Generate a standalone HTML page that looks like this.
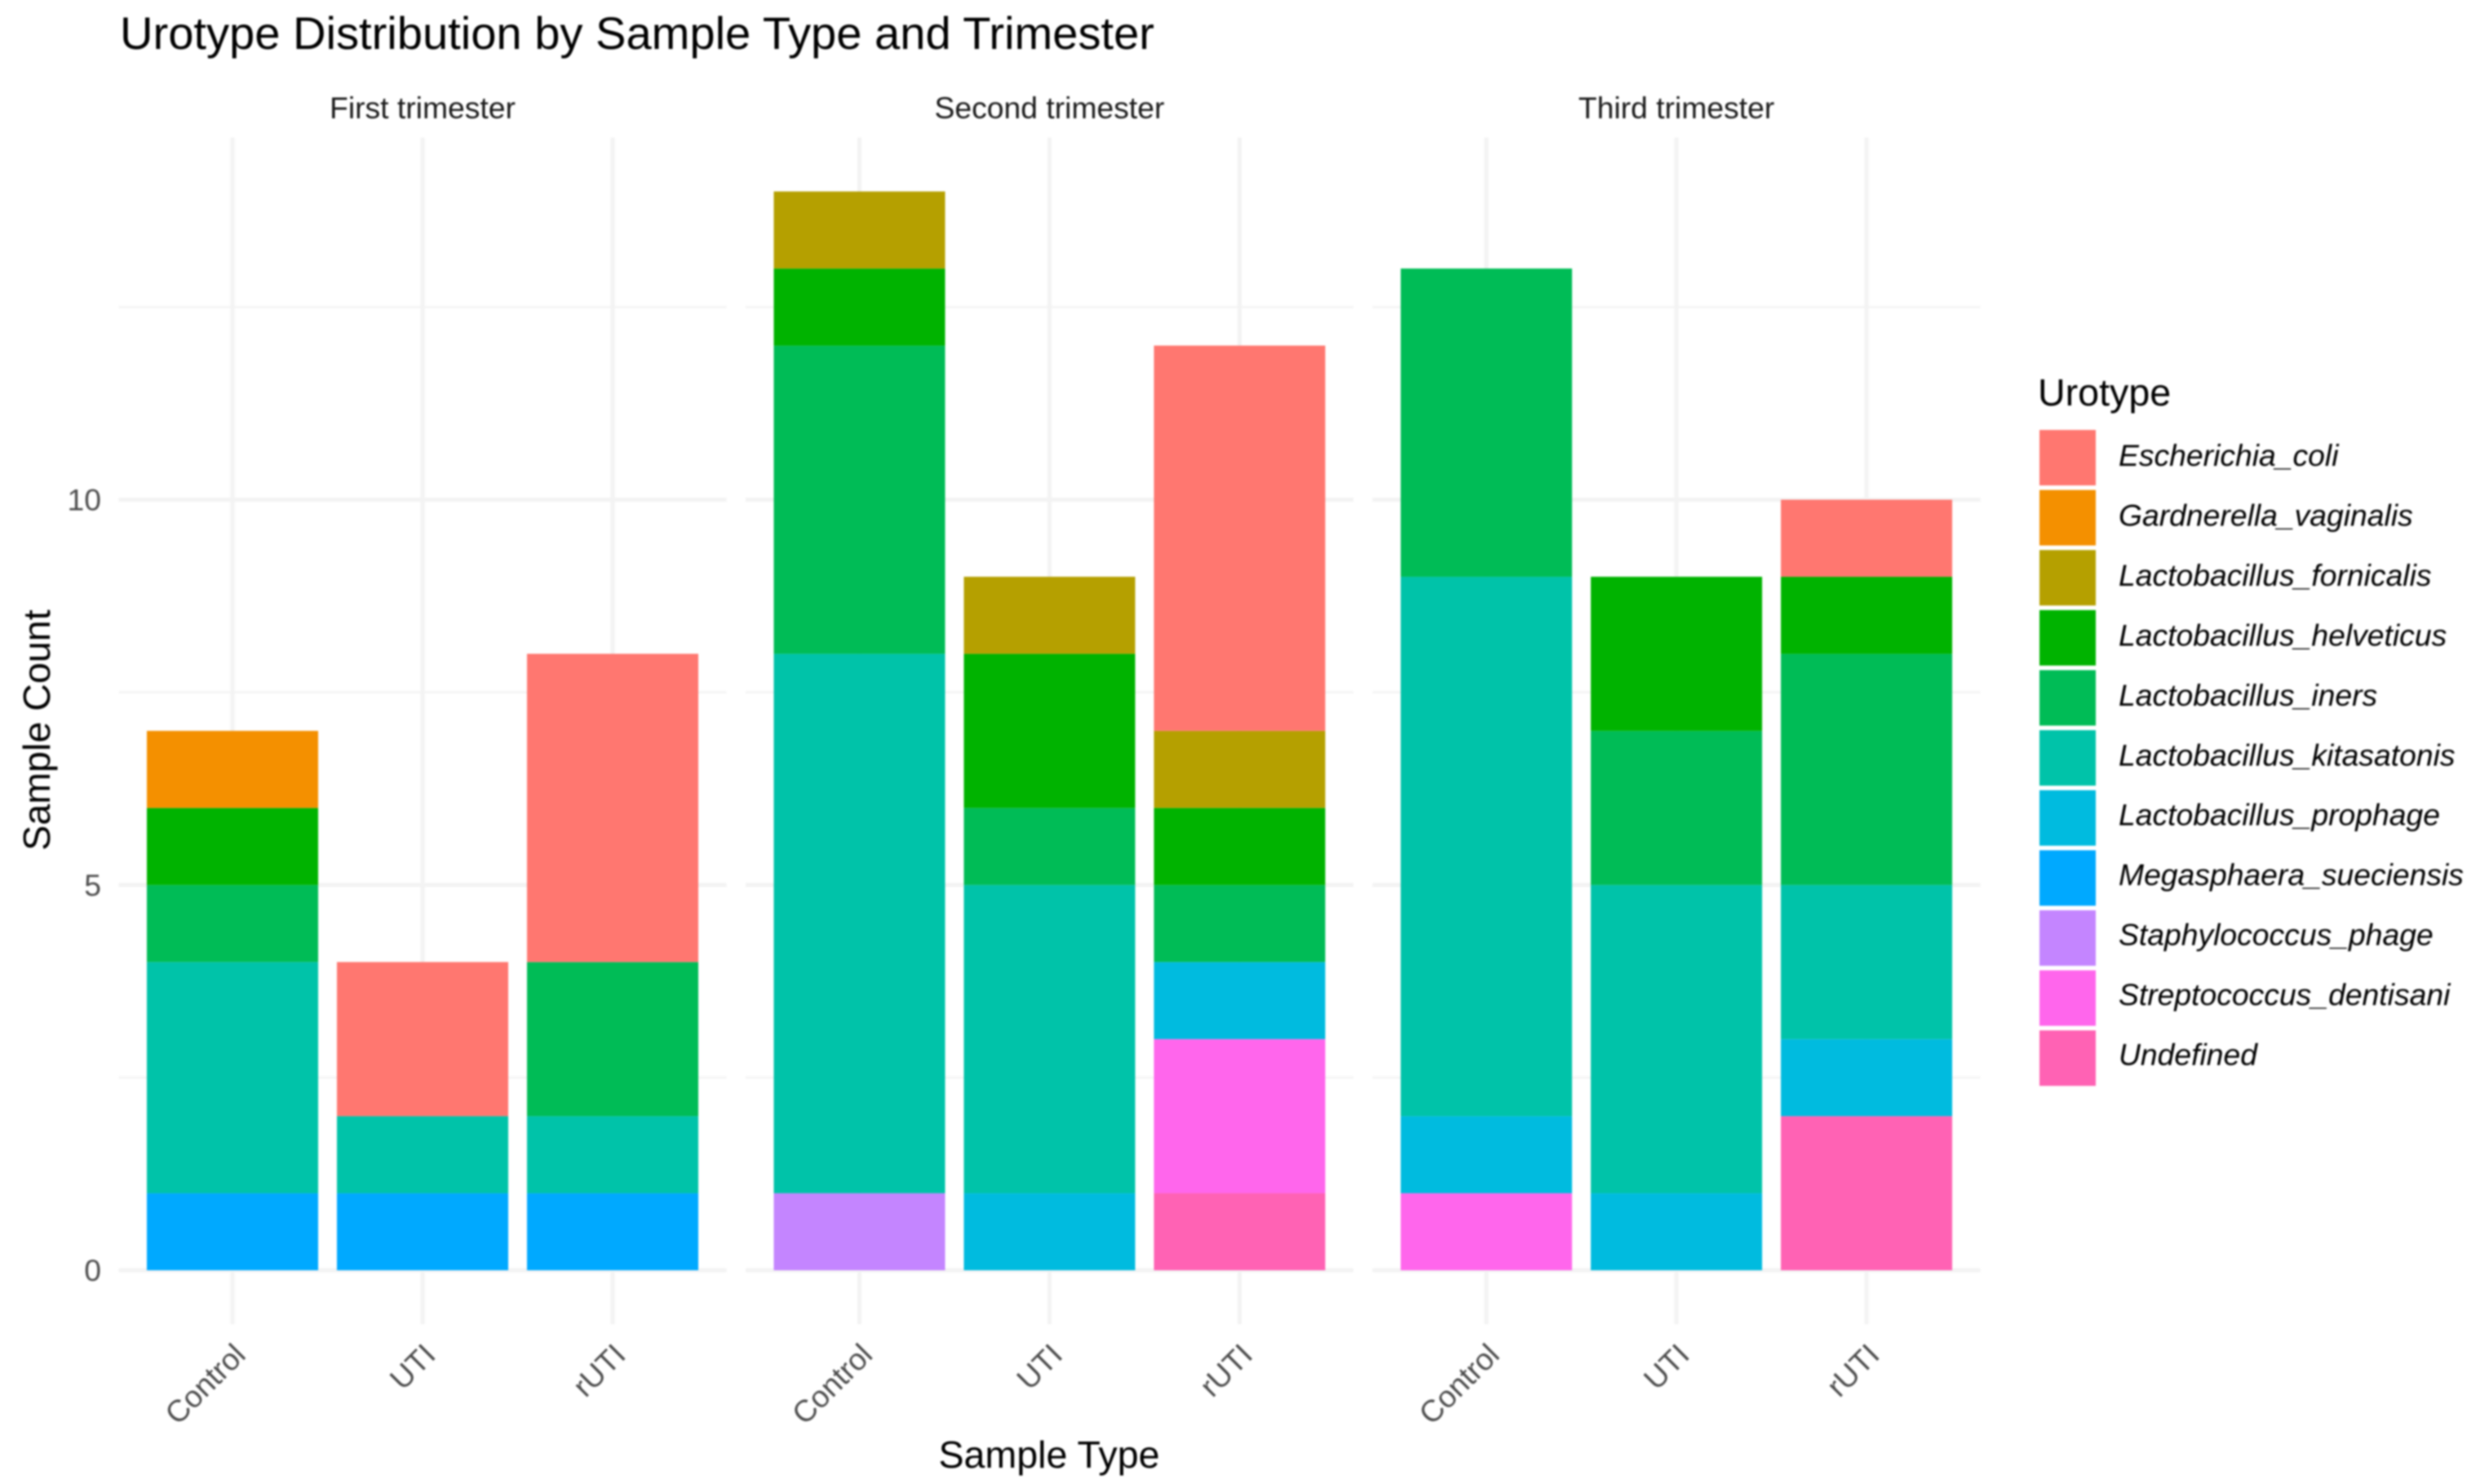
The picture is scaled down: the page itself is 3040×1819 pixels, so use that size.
<!DOCTYPE html>
<html lang="en">
<head>
<meta charset="utf-8">
<title>Urotype Distribution by Sample Type and Trimester</title>
<style>
html,body{margin:0;padding:0;background:#fff;}
svg{display:block;font-family:"Liberation Sans",Arial,sans-serif;filter:blur(1px);}
</style>
</head>
<body>
<svg id="chart" xmlns="http://www.w3.org/2000/svg" width="3040" height="1819" viewBox="0 0 3040 1819">
  <rect x="0" y="0" width="3040" height="1819" fill="#ffffff"/>
  <text x="147" y="60" font-size="56" textLength="1268" lengthAdjust="spacingAndGlyphs" fill="#000000">Urotype Distribution by Sample Type and Trimester</text>
  <text x="1286" y="1799" font-size="46.6" fill="#000000" text-anchor="middle">Sample Type</text>
  <text x="0" y="0" transform="translate(61,895) rotate(-90)" font-size="46.6" fill="#000000" text-anchor="middle">Sample Count</text>
  <text x="2498" y="497" font-size="46.6" fill="#000000">Urotype</text>
  <g id="grid"></g>
  <g id="bars"></g>
  <g id="labels"></g>
  <g id="legend"></g>
</svg>
<script>
const trimesters = ["First trimester", "Second trimester", "Third trimester"];
const sampleTypes = ["Control", "UTI", "rUTI"];
const yMajorTicks = [0, 5, 10];
const yMinorTicks = [2.5, 7.5, 12.5];
const urotypes = ["Escherichia_coli", "Gardnerella_vaginalis", "Lactobacillus_fornicalis", "Lactobacillus_helveticus", "Lactobacillus_iners", "Lactobacillus_kitasatonis", "Lactobacillus_prophage", "Megasphaera_sueciensis", "Staphylococcus_phage", "Streptococcus_dentisani", "Undefined"];
const colors = ["#FF7770", "#F49000", "#B5A000", "#00B300", "#00BC56", "#00C3A9", "#00BBDF", "#00A9FF", "#C485FF", "#FF66EC", "#FF62B4"];
/* counts per facet/sample: [1st Control, UTI, rUTI, 2nd Control, UTI, rUTI, 3rd Control, UTI, rUTI] */
const escherichiaColi = [0, 2, 4, 0, 0, 5, 0, 0, 1];
const gardnerellaVaginalis = [1, 0, 0, 0, 0, 0, 0, 0, 0];
const lactobacillusFornicalis = [0, 0, 0, 1, 1, 1, 0, 0, 0];
const lactobacillusHelveticus = [1, 0, 0, 1, 2, 1, 0, 2, 1];
const lactobacillusIners = [1, 0, 2, 4, 1, 1, 4, 2, 3];
const lactobacillusKitasatonis = [3, 1, 1, 7, 4, 0, 7, 4, 2];
const lactobacillusProphage = [0, 0, 0, 0, 1, 1, 1, 1, 1];
const megasphaeraSueciensis = [1, 1, 1, 0, 0, 0, 0, 0, 0];
const staphylococcusPhage = [0, 0, 0, 1, 0, 0, 0, 0, 0];
const streptococcusDentisani = [0, 0, 0, 0, 0, 2, 1, 0, 0];
const undefinedType = [0, 0, 0, 0, 0, 1, 0, 0, 2];
const seriesValues = [escherichiaColi, gardnerellaVaginalis, lactobacillusFornicalis, lactobacillusHelveticus, lactobacillusIners, lactobacillusKitasatonis, lactobacillusProphage, megasphaeraSueciensis, staphylococcusPhage, streptococcusDentisani, undefinedType];

const SVGNS = "http://www.w3.org/2000/svg";
const FIRST_CENTER = 285, PANEL_STEP = 768.5, BAND = 233, BAR_WIDTH = 210, EXPAND = 139.5;
const Y0 = 1557, UNIT = 94.45, Y_DOMAIN_MAX = 14.7, Y_DOMAIN_MIN = -0.7;

function xScale(panel, cat) { return FIRST_CENTER + PANEL_STEP * panel + BAND * cat; }
function yScale(v) { return Y0 - UNIT * v; }
function panelLeft(panel) { return xScale(panel, 0) - EXPAND; }
function panelRight(panel) { return xScale(panel, sampleTypes.length - 1) + EXPAND; }
function el(tag, parent, attrs) {
  const n = document.createElementNS(SVGNS, tag);
  for (const k in attrs) n.setAttribute(k, attrs[k]);
  parent.appendChild(n);
  return n;
}

const gridG = document.getElementById("grid");
const barsG = document.getElementById("bars");
const labelsG = document.getElementById("labels");
const legendG = document.getElementById("legend");

trimesters.forEach(function (trimester, p) {
  yMinorTicks.forEach(function (v) {
    const line = el("line", gridG, { x1: panelLeft(p), x2: panelRight(p), y1: yScale(v), y2: yScale(v), stroke: "#f5f5f5", "stroke-width": 3 });
    
    
  });
  yMajorTicks.forEach(function (v) {
    const line = el("line", gridG, { x1: panelLeft(p), x2: panelRight(p), y1: yScale(v), y2: yScale(v), stroke: "#f3f3f3", "stroke-width": 5 });
    
    
  });
  sampleTypes.forEach(function (sample, c) {
    const line = el("line", gridG, { x1: xScale(p, c), x2: xScale(p, c), y1: yScale(Y_DOMAIN_MAX), y2: yScale(Y_DOMAIN_MIN), stroke: "#f3f3f3", "stroke-width": 5 });
    
    

    let cum = 0;
    for (let s = urotypes.length - 1; s >= 0; s--) {
      const v = seriesValues[s][p * sampleTypes.length + c];
      if (!v) continue;
      const r = el("rect", barsG, { x: xScale(p, c) - BAR_WIDTH / 2, y: yScale(cum + v), width: BAR_WIDTH, height: UNIT * v, fill: colors[s] });
      
      
      cum += v;
    }

    const tx = el("text", labelsG, { transform: "translate(" + (xScale(p, c) + 18) + ",1663) rotate(-45)", "font-size": 37.3, fill: "#4d4d4d", "text-anchor": "end" });
    tx.textContent = sample;
    
    
  });
  const strip = el("text", labelsG, { x: xScale(p, 1), y: 145, "font-size": 37.3, fill: "#1a1a1a", "text-anchor": "middle" });
  strip.textContent = trimester;
  
  
});

yMajorTicks.forEach(function (v) {
  const t = el("text", labelsG, { x: 124, y: yScale(v) + 13, "font-size": 37.3, fill: "#4d4d4d", "text-anchor": "end" });
  t.textContent = String(v);
  
  
});

const LEGEND_X = 2500, LEGEND_Y = 527, LEGEND_STEP = 73.6, TEXT_STEP = 73.45, SWATCH_W = 69, SWATCH_H = 68;
urotypes.forEach(function (name, i) {
  const sw = el("rect", legendG, { x: LEGEND_X, y: LEGEND_Y + LEGEND_STEP * i, width: SWATCH_W, height: SWATCH_H, fill: colors[i] });
  
  
  const t = el("text", legendG, { x: 2597, y: LEGEND_Y + TEXT_STEP * i + 44, "font-size": 37.3, "font-style": "italic", fill: "#000000" });
  t.textContent = name;
  
  
});
</script>
</body>
</html>
